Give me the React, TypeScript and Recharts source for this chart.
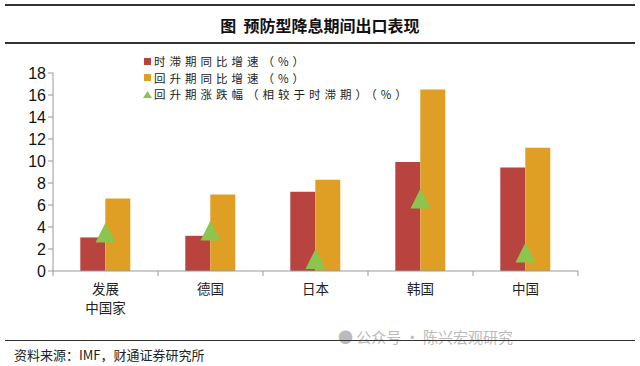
import { ComposedChart, Bar, Scatter, XAxis, YAxis } from "recharts"

const countries = ["发展\n中国家", "德国", "日本", "韩国", "中国"]
const lagGrowth = [3.05, 3.2, 7.2, 9.9, 9.4]
const riseGrowth = [6.6, 6.95, 8.3, 16.5, 11.2]
const riseChange = [3.4, 3.6, 1.0, 6.5, 1.6]
const yTicks = [0, 2, 4, 6, 8, 10, 12, 14, 16, 18]

const RED = "#B8433F"
const ORANGE = "#DF9E24"
const GREEN = "#8CC54E"
const CJK = "'Noto Sans CJK SC', sans-serif"

const data = countries.map((c, i) => ({
  name: c,
  lag: lagGrowth[i],
  rise: riseGrowth[i],
  change: riseChange[i],
}))

const BAND = 105

function Triangle(props: any) {
  const { cx, cy } = props
  if (cx == null || cy == null) return null
  return (
    <polygon
      points={`${cx},${cy - 11} ${cx - 10},${cy + 9} ${cx + 10},${cy + 9}`}
      fill={GREEN}
    />
  )
}

function CategoryTick(props: any) {
  const { x, y, payload, index } = props
  const lines = String(payload.value).split("\n")
  const last = index === countries.length - 1
  return (
    <g>
      <line x1={x - BAND / 2} y1={y - 8} x2={x - BAND / 2} y2={y - 3} stroke="#999" />
      {last && <line x1={x + BAND / 2} y1={y - 8} x2={x + BAND / 2} y2={y - 3} stroke="#999" />}
      {lines.map((l, i) => (
        <text key={i} x={x} y={y + 15 + i * 19} textAnchor="middle" fontSize={13.5} fill="#222" fontFamily={CJK}>
          {l}
        </text>
      ))}
    </g>
  )
}

const legendItems = [
  { label: "时滞期同比增速（%）", color: RED, tri: false },
  { label: "回升期同比增速（%）", color: ORANGE, tri: false },
  { label: "回升期涨跌幅（相较于时滞期）（%）", color: GREEN, tri: true },
]

function LegendBox() {
  return (
    <div style={{ fontFamily: CJK, fontSize: 11.5, color: "#222" }}>
      {legendItems.map((it) => (
        <div key={it.label} style={{ display: "flex", alignItems: "center", whiteSpace: "nowrap", height: 16.5 }}>
          <svg width={9} height={9} style={{ marginRight: 2 }}>
            {it.tri ? (
              <polygon points="4.5,1 0,8 9,8" fill={it.color} />
            ) : (
              <rect x={1} y={1} width={7} height={7} fill={it.color} />
            )}
          </svg>
          <span style={{ letterSpacing: 4 }}>{it.label}</span>
        </div>
      ))}
    </div>
  )
}

export default function App() {
  return (
    <div style={{ position: "absolute", left: 0, top: 0, width: 640, height: 366, background: "#fff", overflow: "hidden" }}>
      <div style={{ position: "absolute", left: 5, right: 5, top: 4, borderTop: "2px solid #333" }} />
      <div
        style={{
          position: "absolute",
          top: 13,
          left: 0,
          width: 640,
          textAlign: "center",
          fontFamily: CJK,
          fontWeight: 700,
          fontSize: 16,
          color: "#111",
        }}
      >
        图&nbsp;&nbsp;预防型降息期间出口表现
      </div>
      <div style={{ position: "absolute", left: 5, right: 5, top: 42, borderTop: "2px solid #333" }} />

      <div style={{ position: "absolute", left: 0, top: 0 }}>
        <ComposedChart
          width={640}
          height={330}
          data={data}
          margin={{ top: 73, right: 62, left: 0, bottom: 19 }}
          barCategoryGap="26%"
          barGap={0}
        >
          <XAxis
            dataKey="name"
            height={40}
            stroke="#999"
            tickLine={false}
            interval={0}
            tick={<CategoryTick />}
          />
          <YAxis
            width={53}
            domain={[0, 18]}
            ticks={yTicks}
            interval={0}
            stroke="#999"
            tickSize={5}
            tick={{ fontSize: 16, fill: "#111", fontFamily: "'Liberation Sans', Arial, sans-serif" }}
          />
          <Bar dataKey="lag" fill={RED} isAnimationActive={false} />
          <Bar dataKey="rise" fill={ORANGE} isAnimationActive={false} />
          <Scatter dataKey="change" shape={<Triangle />} isAnimationActive={false} />
        </ComposedChart>
      </div>

      <div style={{ position: "absolute", left: 143, top: 53 }}>
        <LegendBox />
      </div>

      <div
        style={{
          position: "absolute",
          left: 338,
          top: 326,
          fontFamily: CJK,
          fontSize: 15,
          color: "#bbb",
        }}
      >
        ● 公众号 · 陈兴宏观研究
      </div>
      <div style={{ position: "absolute", left: 5, right: 5, top: 340, borderTop: "1px solid #333" }} />
      <div
        style={{
          position: "absolute",
          left: 14,
          top: 345,
          fontFamily: CJK,
          fontSize: 13,
          color: "#222",
        }}
      >
        资料来源：IMF，财通证券研究所
      </div>
    </div>
  )
}
